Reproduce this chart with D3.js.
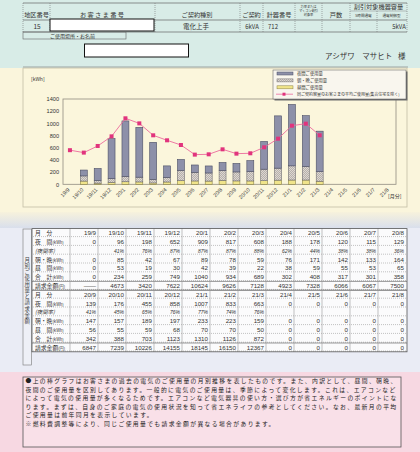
<!DOCTYPE html>
<html><head><meta charset="utf-8">
<script src="https://cdn.jsdelivr.net/npm/d3@7"></script>
<style>
html,body{margin:0;padding:0;background:#f3efe0;}
svg{display:block;font-family:"Noto Sans CJK JP","Noto Sans",sans-serif;}
</style></head><body>
<svg id="c" width="420" height="452"></svg>
<script>
// ---------- data ----------
const months = ["19/9","19/10","19/11","19/12","20/1","20/2","20/3","20/4","20/5","20/6","20/7","20/8",
                "20/9","20/10","20/11","20/12","21/1","21/2","21/3","21/4","21/5","21/6","21/7","21/8"];
const night   = [0,96,198,652,909,817,608,188,178,120,115,129,139,176,455,858,1007,833,663,0,0,0,0,0];
const nightRate = ["","41%","76%","87%","87%","87%","88%","62%","44%","38%","38%","36%",
                   "41%","45%","65%","76%","77%","74%","76%","","","","",""];
const morning = [0,85,42,67,89,78,59,76,171,142,133,164,147,157,189,197,233,223,159,0,0,0,0,0];
const day     = [0,53,19,30,42,39,22,38,59,55,53,65,56,55,59,68,70,70,50,0,0,0,0,0];
const total   = [0,234,259,749,1040,934,689,302,408,317,301,358,342,388,703,1123,1310,1126,872,0,0,0,0,0];
const bill    = ["——","4673","3420","7622","10624","9626","7128","4923","7328","6066","6067","7500",
                 "6847","7239","10226","14155","18145","16150","12367","0","0","0","0","0"];
const average = [560,520,629,787,1083,1000,804,722,645,487,492,574,503,509,607,749,962,995,804,null,null,null,null,null];
const yTicks  = [0,200,400,600,800,1000,1200,1400];
const seriesKeys  = ["day","morning","night"];
const legendNames = ["夜間ご使用量","朝・晩ご使用量","昼間ご使用量","同ご契約容量のお客さまの平均ご使用量(集合住宅を除く)"];
const rowLabels = [["月　分",""],["夜　間","(kWh)"],["(夜間率)",""],["朝・晩","(kWh)"],["昼　間","(kWh)"],["合　計","(kWh)"],["請求金額","(円)"]];
const noteLines = [
 "●上の棒グラフはお客さまの過去の電気のご使用量の月別推移を表したものです。また、内訳として、昼間、朝晩、",
 "夜間のご使用量を区別してあります。一般的に電気のご使用量は、季節によって変化します。これは、エアコンなど",
 "によって電気の使用量が多くなるためです。エアコンなど電気器具の使い方・選び方が省エネルギーのポイントにな",
 "ります。まずは、自身のご家庭の電気の使用状況を知って省エネライフの参考としてください。なお、最新月の平均",
 "ご使用量は前年同月を表示しています。",
 "※燃料費調整等により、同じご使用量でも請求金額が異なる場合があります。"
];

const svg = d3.select("#c");
const defs = svg.append("defs");
const pat = defs.append("pattern").attr("id","hatch").attr("patternUnits","userSpaceOnUse").attr("width",2).attr("height",2);
pat.append("rect").attr("width",2).attr("height",2).attr("fill","#ddd7d0");
pat.append("path").attr("d","M0,2L2,0").attr("stroke","#9c9696").attr("stroke-width",0.6);
const grad = defs.append("linearGradient").attr("id","band").attr("x1",0).attr("x2",0).attr("y1",0).attr("y2",1);
grad.append("stop").attr("offset",0).attr("stop-color","#f7f2dc");
grad.append("stop").attr("offset",1).attr("stop-color","#d9dfec");

// ---------- backgrounds ----------
svg.append("rect").attr("x",0).attr("y",0).attr("width",420).attr("height",68).attr("fill","#d8ece7");
svg.append("rect").attr("x",0).attr("y",68).attr("width",420).attr("height",144).attr("fill","#faf5dc");
svg.append("rect").attr("x",0).attr("y",212).attr("width",420).attr("height",16).attr("fill","url(#band)");
svg.append("rect").attr("x",0).attr("y",228).attr("width",420).attr("height",144).attr("fill","#eaecf5");
svg.append("rect").attr("x",0).attr("y",372).attr("width",420).attr("height",80).attr("fill","#f7d8e2");

// ---------- header ----------
const hd = svg.append("g").attr("fill","#333");
[3,20,32].forEach(y=>hd.append("line").attr("x1",23).attr("x2",407).attr("y1",y).attr("y2",y).attr("stroke","#666").attr("stroke-width",0.7));
hd.append("line").attr("x1",350).attr("x2",407).attr("y1",11).attr("y2",11).attr("stroke","#888").attr("stroke-width",0.5);
[23,50,155,240,263,295,322,350,407].forEach(x=>hd.append("line").attr("x1",x).attr("x2",x).attr("y1",3).attr("y2",32)
   .attr("stroke","#777").attr("stroke-width",0.6).attr("stroke-dasharray","1,1"));
hd.append("line").attr("x1",377).attr("x2",377).attr("y1",11).attr("y2",32).attr("stroke","#777").attr("stroke-width",0.6).attr("stroke-dasharray","1,1");
const hText=(t,x,y,s,a="middle")=>hd.append("text").attr("x",x).attr("y",y).attr("font-size",s).attr("text-anchor",a).text(t);
hText("地区番号",36.5,16.5,6.2);
hText("お 客 さ ま 番 号",102,16.5,6.2);
hText("ご契約種別",197,16.5,6.2);
hText("ご契約",251.5,16.5,6.2);
hText("計器番号",279,16.5,6.2);
hText("力率または",308.5,7.5,3.2);
hText("マイコン割引",308.5,11.8,3.2);
hText("対象率",308.5,16.1,3.2);
hText("戸数",336,16.5,6.2);
hText("割引対象機器容量",378.5,9.3,6.2);
hText("5時間通電",363.5,17,3.6);
hText("通電制御型",391.5,17,3.6);
hText("15",37,29,6.5);
hText("電化上手",196,29,6.5);
hText("6kVA",252,29,6);
hText("712",273,29,6);
hText("5kVA",399,29,6);
hd.append("rect").attr("x",50).attr("y",19).attr("width",104).attr("height",12).attr("fill","#fff").attr("stroke","#111").attr("stroke-width",1);
hd.append("rect").attr("x",23).attr("y",32).attr("width",103).attr("height",7).attr("fill","none").attr("stroke","#666").attr("stroke-width",0.6);
hText("ご使用場所・お名前",50,37.8,5,"start");
hd.append("rect").attr("x",84.5).attr("y",44).attr("width",104).attr("height",13).attr("fill","#fff").attr("stroke","#111").attr("stroke-width",1);
hText("アシザワ　マサヒト",325,59,7.5,"start");
hText("様",398,59,7.5,"start");
hd.append("line").attr("x1",23).attr("x2",408).attr("y1",67).attr("y2",67).attr("stroke","#777").attr("stroke-width",0.6);

// ---------- chart panel ----------
svg.append("rect").attr("x",23).attr("y",68).attr("width",384).attr("height",139).attr("fill","#fbf6dc").attr("stroke","#c4bea6").attr("stroke-width",0.8);

const x = d3.scaleBand().domain(months).range([63,396]).paddingInner(0.5).paddingOuter(0.25);
const y = d3.scaleLinear().domain([0,1400]).range([184.3,99]);

const yAx = svg.append("g").attr("transform","translate(61,0)")
  .call(d3.axisLeft(y).tickValues(yTicks).tickSize(0).tickPadding(2).tickFormat(d3.format("d")));
yAx.select(".domain").remove();
yAx.selectAll("text").attr("font-size",5.6).attr("fill","#333").attr("font-family","'Liberation Sans',Arial,sans-serif");
svg.append("text").attr("x",31).attr("y",81).attr("font-size",5).attr("fill","#333").text("[kWh]");

svg.append("rect").attr("x",63).attr("y",99).attr("width",333).attr("height",85.3).attr("fill","none").attr("stroke","#918c80").attr("stroke-width",0.8);

const rows = months.map((m,i)=>({m, day:day[i], morning:morning[i], night:night[i]}));
const stacked = d3.stack().keys(seriesKeys)(rows);
const fills = {day:"#f0e48a", morning:"url(#hatch)", night:"#8d90a9"};
const strokes = {day:"#8a8244", morning:"#6c6a70", night:"#4a4d64"};
svg.append("g").selectAll("g").data(stacked).join("g")
  .attr("fill",d=>fills[d.key]).attr("stroke",d=>strokes[d.key]).attr("stroke-width",0.6)
  .selectAll("rect").data(d=>d.filter(s=>s[1]-s[0]>0)).join("rect")
  .attr("x",d=>x(d.data.m)).attr("width",x.bandwidth())
  .attr("y",d=>y(d[1])).attr("height",d=>y(d[0])-y(d[1]));

const avgPts = months.map((m,i)=>({m,v:average[i]}));
svg.append("path").datum(avgPts)
  .attr("d",d3.line().defined(d=>d.v!=null).x(d=>x(d.m)+x.bandwidth()/2).y(d=>y(d.v)))
  .attr("fill","none").attr("stroke","#ec6b9d").attr("stroke-width",0.9);
svg.append("g").selectAll("rect").data(avgPts.filter(d=>d.v!=null)).join("rect")
  .attr("x",d=>x(d.m)+x.bandwidth()/2-2).attr("y",d=>y(d.v)-2).attr("width",4).attr("height",4).attr("fill","#e1347d");

const xAx = svg.append("g").attr("transform","translate(0,187)").call(d3.axisBottom(x).tickSize(0).tickPadding(0));
xAx.select(".domain").remove();
xAx.selectAll("text").attr("font-size",5.3).attr("fill","#333").attr("font-family","'Liberation Sans',Arial,sans-serif")
   .attr("text-anchor","end").attr("dy","0.3em").attr("transform","translate(-1,2) rotate(-45)");
svg.append("text").attr("x",388).attr("y",198).attr("font-size",5).attr("fill","#333").text("[月分]");

// legend
const lg = svg.append("g");
lg.append("rect").attr("x",274.5).attr("y",71.5).attr("width",133).attr("height",29).attr("fill","#6e6e6e");
lg.append("rect").attr("x",273).attr("y",70).attr("width",133).attr("height",29).attr("fill","#f9f6ee").attr("stroke","#555").attr("stroke-width",0.5);
const lgKeys = ["night","morning","day"];
lgKeys.forEach((k,i)=>{
  const yy = 73.5 + i*6.9;
  lg.append("rect").attr("x",277).attr("y",yy-1.5).attr("width",16).attr("height",3).attr("fill",fills[k]).attr("stroke",strokes[k]).attr("stroke-width",0.5);
  lg.append("text").attr("x",297).attr("y",yy+1.5).attr("font-size",4.3).attr("fill","#333").text(legendNames[i]);
});
lg.append("line").attr("x1",276).attr("x2",293).attr("y1",94.2).attr("y2",94.2).attr("stroke","#ec6b9d").attr("stroke-width",0.8);
lg.append("rect").attr("x",282.5).attr("y",92.7).attr("width",3).attr("height",3).attr("fill","#e1347d");
lg.append("text").attr("x",297).attr("y",95.7).attr("font-size",4).attr("fill","#333").text(legendNames[3]);

// ---------- table ----------
const tTop = 228.6, rh = 8.8;
const col = d3.scaleBand().domain(d3.range(12)).range([70,406]);
const tb = svg.append("g");
tb.append("rect").attr("x",23).attr("y",229).attr("width",8.5).attr("height",136).attr("fill","#eef0f7").attr("stroke","#777").attr("stroke-width",0.6);
tb.append("text").attr("x",27.3).attr("y",257).attr("font-size",5.4).attr("fill","#444")
  .style("writing-mode","vertical-rl").attr("letter-spacing",0.7).text("月別ご使用量と請求金額");
tb.append("rect").attr("x",32).attr("y",tTop).attr("width",375).attr("height",rh*14).attr("fill","#fbfbfc");

for(let b=0;b<2;b++){
  const idx = d3.range(b*12,b*12+12);
  const rowVals = [
    idx.map(i=>months[i]), idx.map(i=>String(night[i])), idx.map(i=>nightRate[i]),
    idx.map(i=>String(morning[i])), idx.map(i=>String(day[i])), idx.map(i=>String(total[i])), idx.map(i=>bill[i])
  ];
  rowVals.forEach((vals,r)=>{
    const top = tTop + (b*7+r)*rh, cy = top + rh/2;
    tb.append("line").attr("x1",33).attr("x2",406).attr("y1",top+rh-0.8).attr("y2",top+rh-0.8)
      .attr("stroke","#888").attr("stroke-width",0.5).attr("stroke-dasharray","1,1");
    const lab = tb.append("text").attr("x",35).attr("y",cy+2.2).attr("font-size",r===2?5.4:5.8).attr("fill","#333")
      .attr("font-style",r===2?"italic":null);
    lab.append("tspan").text(rowLabels[r][0]);
    if(rowLabels[r][1]) lab.append("tspan").attr("font-size",4.2).text(rowLabels[r][1]);
    vals.forEach((v,c)=>{
      tb.append("text").attr("x",col(c)+col.bandwidth()-2).attr("y",cy+2.2).attr("text-anchor","end")
        .attr("font-size",r===2?5:6.2).attr("font-style",r===2?"italic":null).attr("fill","#333")
        .attr("font-family","'Liberation Sans',Arial,sans-serif").text(v);
    });
    if(r===6){
      tb.append("line").attr("x1",32).attr("x2",407).attr("y1",top).attr("y2",top).attr("stroke","#555").attr("stroke-width",0.6);
    }
  });
}
tb.append("line").attr("x1",32).attr("x2",407).attr("y1",tTop+7*rh).attr("y2",tTop+7*rh).attr("stroke","#444").attr("stroke-width",0.8);
d3.range(12).forEach(c=>tb.append("line").attr("x1",col(c)).attr("x2",col(c)).attr("y1",tTop).attr("y2",tTop+14*rh)
   .attr("stroke","#999").attr("stroke-width",0.6));
tb.append("rect").attr("x",32).attr("y",tTop).attr("width",375).attr("height",rh*14).attr("fill","none").attr("stroke","#555").attr("stroke-width",0.8);

// ---------- note ----------
svg.append("rect").attr("x",23).attr("y",377).attr("width",378).attr("height",70).attr("fill","#f9e0e8").attr("stroke","#555").attr("stroke-width",0.8);
const nb = [383,391.6,400.2,408.8,417.4,426];
noteLines.forEach((t,i)=>svg.append("text").attr("x",25.5).attr("y",nb[i]).attr("font-size",5.8).attr("letter-spacing",1.38)
  .attr("fill","#222").text(t));
</script></body></html>
